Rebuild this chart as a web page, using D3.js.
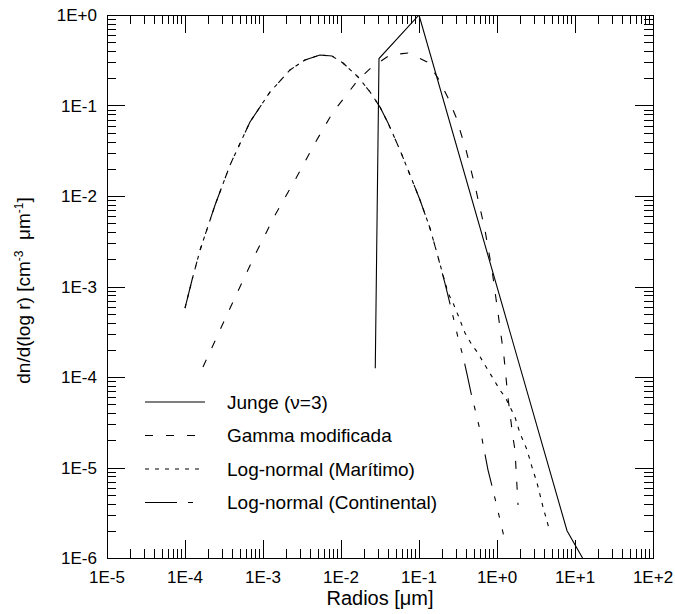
<!DOCTYPE html>
<html>
<head>
<meta charset="utf-8">
<script src="https://cdn.jsdelivr.net/npm/d3@7"></script>
<style>
  html, body { margin: 0; padding: 0; background: #fff; }
  svg { display: block; }
  text { font-family: "Liberation Sans", Arial, Helvetica, sans-serif; fill: #000; }
</style>
</head>
<body>
<svg id="chart" width="675" height="614"></svg>
<script>
// ---------------- data ----------------
const xTickValues = [1e-5, 1e-4, 1e-3, 1e-2, 1e-1, 1e0, 1e1, 1e2];
const xTickLabels = ["1E-5", "1E-4", "1E-3", "1E-2", "1E-1", "1E+0", "1E+1", "1E+2"];
const yTickValues = [1e-6, 1e-5, 1e-4, 1e-3, 1e-2, 1e-1, 1e0];
const yTickLabels = ["1E-6", "1E-5", "1E-4", "1E-3", "1E-2", "1E-1", "1E+0"];

const seriesNames = ["Junge (\u03bd=3)", "Gamma modificada", "Log-normal (Mar\u00edtimo)", "Log-normal (Continental)"];

// Junge (nu = 3)
const jungeR = [0.0275, 0.0307, 0.1, 7.9, 12.5];
const jungeN = [1.25e-4, 0.33, 1.0, 2.0e-6, 1.0e-6];

// Gamma modificada
const gammaR = [1.70e-4, 2.81e-4, 4.65e-4, 7.89e-4, 1.43e-3, 2.57e-3, 4.65e-3, 7.89e-3,
  1.12e-2, 1.65e-2, 2.49e-2, 4.25e-2, 7.23e-2, 0.127, 0.175, 0.236, 0.298, 0.401,
  0.538, 0.701, 0.863, 1.03, 1.23, 1.38, 1.60, 1.70, 1.86];
const gammaN = [1.29e-4, 3.30e-4, 8.47e-4, 2.23e-3, 6.17e-3, 1.50e-2, 3.85e-2, 8.47e-2,
  0.124, 0.191, 0.266, 0.361, 0.380, 0.303, 0.201, 0.121, 0.0746, 0.0322,
  0.0116, 4.21e-3, 1.52e-3, 5.09e-4, 1.66e-4, 6.01e-5, 2.17e-5, 1.56e-5, 3.85e-6];

// Log-normal (Maritimo)
const maritR = [1.00e-4, 1.23e-4, 1.56e-4, 2.43e-4, 3.78e-4, 6.81e-4, 1.23e-3, 2.22e-3,
  3.45e-3, 5.38e-3, 7.67e-3, 1.06e-2, 1.65e-2, 2.36e-2, 3.16e-2, 4.01e-2, 5.70e-2,
  7.67e-2, 0.103, 0.138, 0.170, 0.203, 0.236, 0.273, 0.316, 0.389, 0.478, 0.570,
  0.662, 0.767, 0.916, 1.09, 1.27, 1.47, 1.70, 1.97, 2.43, 2.81, 3.26, 3.89, 4.78];
const maritN = [5.78e-4, 1.18e-3, 2.53e-3, 7.96e-3, 2.20e-2, 6.58e-2, 0.141, 0.247,
  0.318, 0.361, 0.352, 0.295, 0.207, 0.141, 9.62e-2, 6.41e-2, 3.22e-2,
  1.71e-2, 9.04e-3, 4.43e-3, 2.34e-3, 1.34e-3, 8.47e-4, 6.58e-4, 4.84e-4, 3.06e-4, 2.26e-4, 1.84e-4,
  1.47e-4, 1.19e-4, 9.27e-5, 7.18e-5, 6.01e-5, 4.67e-5, 3.61e-5, 2.40e-5, 1.56e-5, 1.01e-5, 6.75e-6, 3.66e-6, 1.94e-6];

// Log-normal (Continental)
const contR = [1.00e-4, 1.23e-4, 1.56e-4, 2.43e-4, 3.78e-4, 6.81e-4, 1.23e-3, 2.22e-3,
  3.45e-3, 5.38e-3, 7.67e-3, 1.06e-2, 1.65e-2, 2.36e-2, 3.16e-2, 4.01e-2, 5.70e-2,
  7.67e-2, 0.103, 0.138, 0.170, 0.215, 0.265, 0.326, 0.366, 0.412, 0.465, 0.522,
  0.643, 0.767, 0.889, 1.00, 1.23];
const contN = [5.78e-4, 1.18e-3, 2.53e-3, 7.96e-3, 2.20e-2, 6.58e-2, 0.141, 0.247,
  0.318, 0.361, 0.352, 0.295, 0.207, 0.141, 9.62e-2, 6.41e-2, 3.22e-2,
  1.71e-2, 9.04e-3, 4.43e-3, 2.34e-3, 1.09e-3, 5.22e-4, 2.44e-4, 1.71e-4, 1.08e-4, 6.65e-5, 4.43e-5,
  2.07e-5, 9.38e-6, 5.64e-6, 3.66e-6, 1.71e-6];

// ---------------- layout ----------------
const L = 107, R = 653, T = 15, B = 558;
const svg = d3.select("#chart");

const x = d3.scaleLog().domain([1e-5, 1e2]).range([L, R]);
const y = d3.scaleLog().domain([1e-6, 1]).range([B, T]);

// clip
svg.append("defs").append("clipPath").attr("id", "plotclip")
  .append("rect").attr("x", L).attr("y", T).attr("width", R - L).attr("height", B - T);

// minor tick values
function minors(majors) {
  const out = [];
  for (let i = 0; i < majors.length - 1; i++) {
    for (let k = 2; k <= 9; k++) out.push(majors[i] * k);
  }
  return out;
}
const xMinor = minors(xTickValues);
const yMinor = minors(yTickValues);

const MAJ = 18, MIN = 9;
const tickG = svg.append("g").attr("stroke", "#000").attr("stroke-width", 1).attr("shape-rendering", "crispEdges");

function addTicksX(vals, len) {
  vals.forEach(v => {
    const px = Math.round(x(v)) + 0.5;
    tickG.append("line").attr("x1", px).attr("x2", px).attr("y1", B).attr("y2", B - len);
    tickG.append("line").attr("x1", px).attr("x2", px).attr("y1", T).attr("y2", T + len);
  });
}
function addTicksY(vals, len) {
  vals.forEach(v => {
    const py = Math.round(y(v)) + 0.5;
    tickG.append("line").attr("y1", py).attr("y2", py).attr("x1", L).attr("x2", L + len);
    tickG.append("line").attr("y1", py).attr("y2", py).attr("x1", R).attr("x2", R - len);
  });
}
addTicksX(xMinor, MIN);
addTicksX(xTickValues, MAJ);
addTicksY(yMinor, MIN);
addTicksY(yTickValues, MAJ);

// frame
svg.append("rect").attr("x", L + 0.5).attr("y", T + 0.5).attr("width", R - L).attr("height", B - T)
  .attr("fill", "none").attr("stroke", "#000").attr("stroke-width", 1).attr("shape-rendering", "crispEdges");

// tick labels
svg.append("g").selectAll("text").data(xTickValues).join("text")
  .attr("x", d => x(d)).attr("y", 583)
  .attr("text-anchor", "middle").attr("font-size", 17)
  .text((d, i) => xTickLabels[i]);

svg.append("g").selectAll("text").data(yTickValues).join("text")
  .attr("x", 97).attr("y", d => y(d) + 6)
  .attr("text-anchor", "end").attr("font-size", 17)
  .text((d, i) => yTickLabels[i]);

// axis titles
svg.append("text").attr("x", (L + R) / 2).attr("y", 605)
  .attr("text-anchor", "middle").attr("font-size", 20)
  .text("Radios [\u03bcm]");

const yl = svg.append("text")
  .attr("transform", "translate(30," + ((T + B) / 2 + 4) + ") rotate(-90)")
  .attr("text-anchor", "middle").attr("font-size", 19);
yl.append("tspan").text("dn/d(log r) [cm");
yl.append("tspan").attr("dy", -7).attr("font-size", 12).text("-3");
yl.append("tspan").attr("dy", 7).text("\u00a0\u00a0\u03bcm");
yl.append("tspan").attr("dy", -7).attr("font-size", 12).text("-1");
yl.append("tspan").attr("dy", 7).text("]");

// series
const dashes = [null, "8,13", "4,6", "32,11,5,12,5,12,5,11"];
const seriesR = [jungeR, gammaR, maritR, contR];
const seriesN = [jungeN, gammaN, maritN, contN];

const line = d3.line().x(d => x(d[0])).y(d => y(d[1]));
const plotG = svg.append("g").attr("clip-path", "url(#plotclip)");
seriesR.forEach((rs, i) => {
  const pts = rs.map((r, j) => [r, seriesN[i][j]]);
  plotG.append("path").datum(pts)
    .attr("d", line)
    .attr("fill", "none").attr("stroke", "#000").attr("stroke-width", 1.1)
    .attr("stroke-dasharray", dashes[i]);
});

// legend
const legY0 = 402, legDY = 33.5;
const leg = svg.append("g");
seriesNames.forEach((name, i) => {
  const yy = legY0 + i * legDY;
  leg.append("line").attr("x1", 145).attr("x2", 205).attr("y1", yy).attr("y2", yy)
    .attr("stroke", "#000").attr("stroke-width", 1.1).attr("stroke-dasharray", dashes[i]);
  leg.append("text").attr("x", 227).attr("y", yy + 6.5).attr("font-size", 19).text(name);
});
</script>
</body>
</html>
